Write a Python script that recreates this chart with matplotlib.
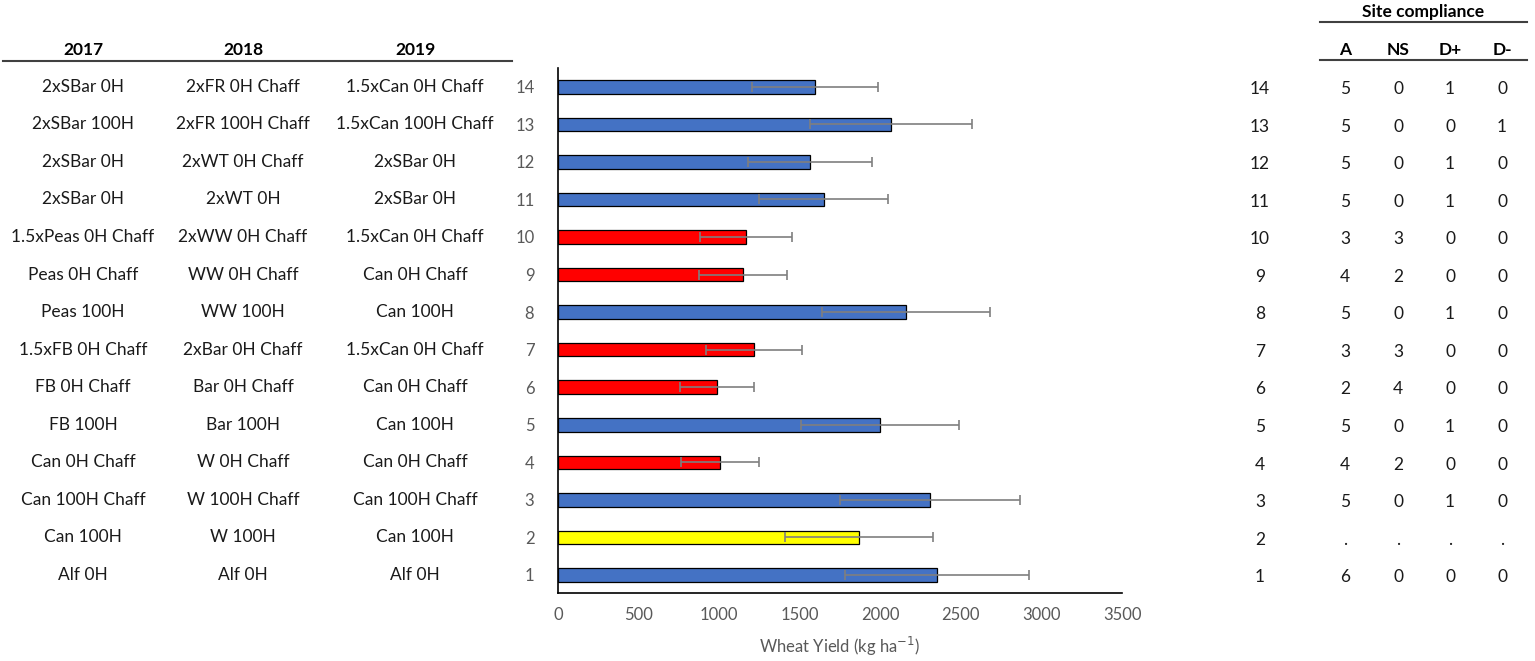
import numpy as np
import matplotlib
matplotlib.use('Agg')
import matplotlib.pyplot as plt
import matplotlib.transforms as mtransforms

plt.rcParams['font.family'] = ['Lato', 'DejaVu Sans']

# Treatment numbers (bottom to top)
treatments = [1, 2, 3, 4, 5, 6, 7, 8, 9, 10, 11, 12, 13, 14]

# Rotations per year, same order as treatments
rot2017 = ['Alf 0H', 'Can 100H', 'Can 100H Chaff', 'Can 0H Chaff', 'FB 100H', 'FB 0H Chaff',
           '1.5xFB 0H Chaff', 'Peas 100H', 'Peas 0H Chaff', '1.5xPeas 0H Chaff',
           '2xSBar 0H', '2xSBar 0H', '2xSBar 100H', '2xSBar 0H']
rot2018 = ['Alf 0H', 'W 100H', 'W 100H Chaff', 'W 0H Chaff', 'Bar 100H', 'Bar 0H Chaff',
           '2xBar 0H Chaff', 'WW 100H', 'WW 0H Chaff', '2xWW 0H Chaff',
           '2xWT 0H', '2xWT 0H Chaff', '2xFR 100H Chaff', '2xFR 0H Chaff']
rot2019 = ['Alf 0H', 'Can 100H', 'Can 100H Chaff', 'Can 0H Chaff', 'Can 100H', 'Can 0H Chaff',
           '1.5xCan 0H Chaff', 'Can 100H', 'Can 0H Chaff', '1.5xCan 0H Chaff',
           '2xSBar 0H', '2xSBar 0H', '1.5xCan 100H Chaff', '1.5xCan 0H Chaff']

# Wheat yield (kg/ha) and error
yields = [2351, 1867, 2308, 1005, 1997, 986, 1216, 2159, 1148, 1166, 1650, 1563, 2066, 1595]
errors = [570, 460, 560, 242, 490, 230, 295, 520, 275, 285, 400, 385, 500, 390]
groups = ['b', 'y', 'b', 'r', 'b', 'r', 'r', 'b', 'r', 'r', 'b', 'b', 'b', 'b']

# Site compliance
comp_A = ['6', '.', '5', '4', '5', '2', '3', '5', '4', '3', '5', '5', '5', '5']
comp_NS = ['0', '.', '0', '2', '0', '4', '3', '0', '2', '3', '0', '0', '0', '0']
comp_Dp = ['0', '.', '1', '0', '1', '0', '0', '1', '0', '0', '1', '1', '0', '1']
comp_Dm = ['0', '.', '0', '0', '0', '0', '0', '0', '0', '0', '0', '0', '1', '0']

colour_map = {'b': '#4472C4', 'r': '#FF0000', 'y': '#FFFF00'}
txt = '#1a1a1a'
grey = '#595959'

fig = plt.figure(figsize=(15.35, 6.61), dpi=100)
ax = fig.add_axes([0.3635, 0.1029, 0.3675, 0.7942])

y = np.array(treatments)
ax.barh(y, yields, height=0.36, color=[colour_map[g] for g in groups],
        edgecolor='black', linewidth=0.9, zorder=2)
ax.errorbar(yields, y, xerr=errors, fmt='none', ecolor='#7F7F7F',
            elinewidth=1.2, capsize=3.5, capthick=1.2, zorder=3)

ax.set_xlim(0, 3500)
ax.set_ylim(0.52, 14.5)
ax.set_xticks(np.arange(0, 3501, 500))
ax.set_yticks(y)
ax.set_yticklabels([str(t) for t in treatments])
ax.tick_params(axis='both', length=0, labelsize=12, labelcolor=grey)
ax.tick_params(axis='y', pad=17)
ax.tick_params(axis='x', pad=10)
for s in ['top', 'right']:
    ax.spines[s].set_visible(False)
ax.spines['left'].set_linewidth(1.2)
ax.spines['bottom'].set_linewidth(1.2)
ax.set_xlabel('Wheat Yield (kg ha$^{-1}$)', fontsize=12, color=grey, labelpad=9)

# Text tables on both sides: x in figure coords, y in data coords
trans = mtransforms.blended_transform_factory(fig.transFigure, ax.transData)

col_x = [83, 243, 415]
for xc, col in zip(col_x, [rot2017, rot2018, rot2019]):
    for yy, label in zip(y, col):
        fig.text(xc / 1535, yy, label, transform=trans, ha='center', va='center',
                 fontsize=12.5, color=txt)

for xc, yr in zip(col_x, ['2017', '2018', '2019']):
    fig.text(xc / 1535, 1 - 50 / 661, yr, ha='center', va='center',
             fontsize=12.5, fontweight='bold', color='black')
fig.add_artist(plt.Line2D([3 / 1535, 512 / 1535], [1 - 61 / 661, 1 - 61 / 661],
                          color='#404040', lw=1.5))

right_cols = [(1260, [str(t) for t in treatments]), (1345, comp_A), (1398, comp_NS),
              (1450, comp_Dp), (1502, comp_Dm)]
for xc, col in right_cols:
    for yy, label in zip(y, col):
        fig.text(xc / 1535, yy - 0.06, label, transform=trans, ha='center', va='center',
                 fontsize=12.5, color=txt)

fig.text(1423 / 1535, 1 - 12 / 661, 'Site compliance', ha='center', va='center',
         fontsize=12.5, fontweight='bold', color='black')
fig.add_artist(plt.Line2D([1320 / 1535, 1527 / 1535], [1 - 22 / 661, 1 - 22 / 661],
                          color='#404040', lw=1.5))
for xc, h in zip([1345, 1398, 1450, 1502], ['A', 'NS', 'D+', 'D-']):
    fig.text(xc / 1535, 1 - 50 / 661, h, ha='center', va='center',
             fontsize=12.5, fontweight='bold', color='black')
fig.add_artist(plt.Line2D([1320 / 1535, 1527 / 1535], [1 - 60 / 661, 1 - 60 / 661],
                          color='#404040', lw=1.5))

fig.savefig('out.png', dpi=100)
